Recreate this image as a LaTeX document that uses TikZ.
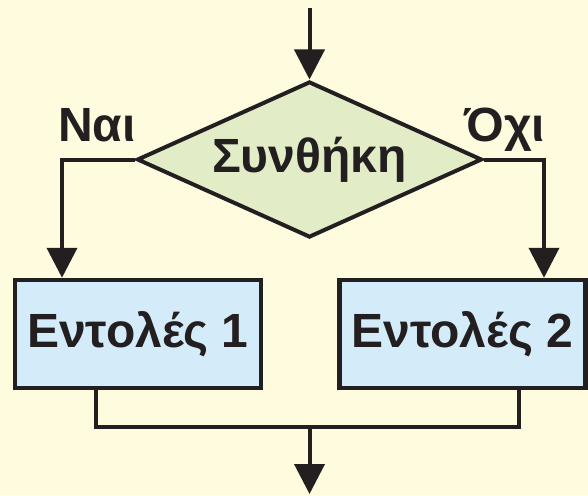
\documentclass[tikz,border=0pt]{standalone}
\usepackage{fontspec}
\setmainfont{Liberation Sans}
\usetikzlibrary{arrows.meta,shapes.geometric}
\definecolor{bg}{RGB}{255,251,223}
\definecolor{dfill}{RGB}{226,237,199}
\definecolor{bfill}{RGB}{212,236,250}
\definecolor{ink}{RGB}{35,31,32}
\tikzset{
  lbl/.style={font=\fontsize{48}{54}\selectfont\bfseries, text=ink},
  cond/.style={diamond, aspect=2.2, draw=ink, fill=dfill, line width=4pt, minimum width=345pt, minimum height=156pt, inner sep=0pt, lbl},
  stmt/.style={rectangle, draw=ink, fill=bfill, line width=4.5pt, minimum width=246pt, minimum height=108pt, inner sep=0pt, lbl},
  conn/.style={draw=ink, line width=4pt, line join=miter},
  arr/.style={conn, -{Triangle[width=30pt,length=30pt]}},
}
\begin{document}
\begin{tikzpicture}[x=1pt,y=-1pt]
\useasboundingbox[fill=bg] (0,0) rectangle (588,495);
\node[cond] (d) at (309.5,159.5) {Συνθήκη};
\node[stmt] (b1) at (138,334) {Εντολές 1};
\node[stmt] (b2) at (462.5,334) {Εντολές 2};
\node[lbl, anchor=base] (yes) at (97,141) {Ναι};
\node[lbl, anchor=base] (no) at (505,141) {Όχι};
\coordinate (in) at (309.5,8);
\coordinate (m) at (309.5,427);
\coordinate (out) at (309.5,494);
\draw[arr] (in) -- (d.north);
\draw[arr] (d.west) -| ([xshift=-76pt]b1.north);
\draw[arr] (d.east) -| ([xshift=81.5pt]b2.north);
\draw[conn] ([xshift=-42pt]b1.south) |- (m) -| ([xshift=56.5pt]b2.south);
\draw[arr] (m) -- (out);
\end{tikzpicture}
\end{document}
